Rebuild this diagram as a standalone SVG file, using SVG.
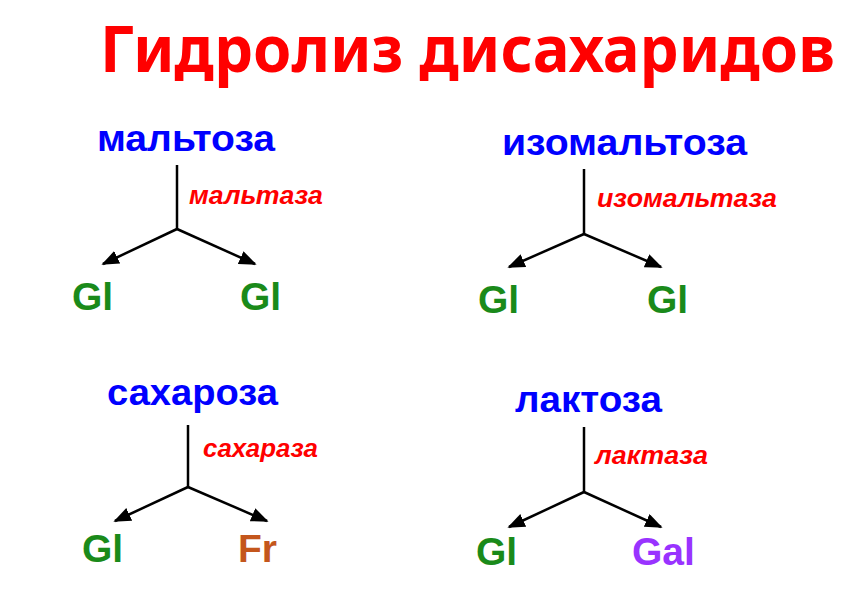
<svg xmlns="http://www.w3.org/2000/svg" width="852" height="600" viewBox="0 0 852 600">
<style>
.title{font-family:"Noto Sans","Liberation Sans",sans-serif;font-weight:bold;font-size:58px;fill:#ff0000}
.sugar{font-family:"Liberation Sans",Arial,sans-serif;font-weight:bold;font-size:37px;fill:#0000ff}
.enz{font-family:"Liberation Sans",Arial,sans-serif;font-weight:bold;font-style:italic;font-size:25px;fill:#ff0000}
.prod{font-family:"Liberation Sans",Arial,sans-serif;font-weight:bold;font-size:39px}
.gl{fill:#1a8a1a}
.fr{fill:#c4561c}
.gal{fill:#9933ff}
.con line{stroke:#000;stroke-width:2.5;fill:none}
.con .arr{marker-end:url(#ah)}
</style>
<defs>
<marker id="ah" viewBox="0 0 10 8" refX="9" refY="4" markerWidth="7" markerHeight="5.6" orient="auto" markerUnits="strokeWidth">
<path d="M0,0 L10,4 L0,8 z" fill="#000"/>
</marker>
</defs>
<rect width="852" height="600" fill="#fff"/>
<g id="title" transform="translate(100,72) scale(1,1.12)"><text class="title" x="0" y="0" textLength="735" lengthAdjust="spacingAndGlyphs">Гидролиз дисахаридов</text></g>

<g id="maltose"><text class="sugar" x="97" y="151" textLength="178" lengthAdjust="spacingAndGlyphs">мальтоза</text></g>
<g id="maltase"><text class="enz" x="189" y="204" textLength="134" lengthAdjust="spacingAndGlyphs">мальтаза</text></g>
<g id="gl1"><text class="prod gl" x="72" y="310">Gl</text></g>
<g id="gl2"><text class="prod gl" x="240" y="310">Gl</text></g>

<g id="isomaltose"><text class="sugar" x="502" y="155" textLength="245" lengthAdjust="spacingAndGlyphs">изомальтоза</text></g>
<g id="isomaltase"><text class="enz" x="597" y="207" textLength="180" lengthAdjust="spacingAndGlyphs">изомальтаза</text></g>
<g id="gl3"><text class="prod gl" x="478" y="313">Gl</text></g>
<g id="gl4"><text class="prod gl" x="647" y="313">Gl</text></g>

<g id="sucrose"><text class="sugar" x="107" y="405" textLength="171" lengthAdjust="spacingAndGlyphs">сахароза</text></g>
<g id="sucrase"><text class="enz" x="203" y="457" textLength="115" lengthAdjust="spacingAndGlyphs">сахараза</text></g>
<g id="gl5"><text class="prod gl" x="82" y="562">Gl</text></g>
<g id="fr"><text class="prod fr" x="238" y="562">Fr</text></g>

<g id="lactose"><text class="sugar" x="515" y="412" textLength="147" lengthAdjust="spacingAndGlyphs">лактоза</text></g>
<g id="lactase"><text class="enz" x="595" y="464" textLength="113" lengthAdjust="spacingAndGlyphs">лактаза</text></g>
<g id="gl6"><text class="prod gl" x="476" y="565">Gl</text></g>
<g id="gal"><text class="prod gal" x="632" y="565">Gal</text></g>

<g id="connectors" class="con">
<line x1="177" y1="165" x2="177" y2="229"/>
<line class="arr" x1="177" y1="229" x2="103" y2="264"/>
<line class="arr" x1="177" y1="229" x2="255" y2="264"/>

<line x1="584" y1="169" x2="584" y2="234"/>
<line class="arr" x1="584" y1="234" x2="509" y2="267"/>
<line class="arr" x1="584" y1="234" x2="661" y2="267"/>

<line x1="188" y1="425" x2="188" y2="487"/>
<line class="arr" x1="188" y1="487" x2="115" y2="521"/>
<line class="arr" x1="188" y1="487" x2="267" y2="521"/>

<line x1="584" y1="427" x2="584" y2="492"/>
<line class="arr" x1="584" y1="492" x2="509" y2="527"/>
<line class="arr" x1="584" y1="492" x2="661" y2="527"/>
</g>
</svg>
